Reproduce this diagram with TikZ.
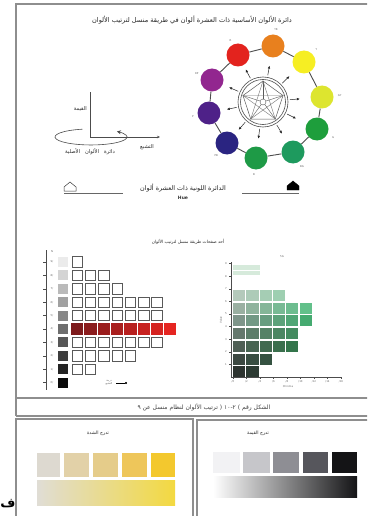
\documentclass[tikz,border=0pt]{standalone}
\usepackage{fontspec}
\newfontfamily\arabicfont[Script=Arabic]{DejaVu Sans}
\newfontfamily\latinfont{DejaVu Sans}
\TeXXeTstate=1
\usetikzlibrary{arrows.meta,calc}
\definecolor{frm}{HTML}{8E8E8E}
\definecolor{mR}{HTML}{E3231E}
\definecolor{mYR}{HTML}{E8801E}
\definecolor{mY}{HTML}{F6EE23}
\definecolor{mGY}{HTML}{DDE52F}
\definecolor{mG}{HTML}{1E9E3C}
\definecolor{mBG}{HTML}{1E9A5E}
\definecolor{mB}{HTML}{1E9A46}
\definecolor{mPB}{HTML}{2A2481}
\definecolor{mP}{HTML}{4E2188}
\definecolor{mRP}{HTML}{92268F}
\definecolor{redL}{HTML}{7D1A1C}
\definecolor{redR}{HTML}{E52521}
\definecolor{gAL}{HTML}{B4C9BB}\definecolor{gAR}{HTML}{8FD3AA}
\definecolor{gBL}{HTML}{9AB0A2}\definecolor{gBR}{HTML}{62C08A}
\definecolor{gCL}{HTML}{7E958A}\definecolor{gCR}{HTML}{45AA70}
\definecolor{gDL}{HTML}{65786D}\definecolor{gDR}{HTML}{3A905B}
\definecolor{gEL}{HTML}{4F5F55}\definecolor{gER}{HTML}{2C7A48}
\definecolor{gFL}{HTML}{3C4841}\definecolor{gFR}{HTML}{2A6040}
\definecolor{gGL}{HTML}{2D3430}\definecolor{gGR}{HTML}{285038}
\definecolor{gTop}{HTML}{D6EADB}
\definecolor{yl1}{HTML}{DDD9D0}\definecolor{yl2}{HTML}{E2D1A8}
\definecolor{yl3}{HTML}{E5CC8A}\definecolor{yl4}{HTML}{EEC65A}
\definecolor{yl5}{HTML}{F3C82E}
\definecolor{ylL}{HTML}{E0DDD5}\definecolor{ylR}{HTML}{F3D940}
\definecolor{gv1}{HTML}{F2F2F4}\definecolor{gv2}{HTML}{C6C6CA}
\definecolor{gv3}{HTML}{8E8E94}\definecolor{gv4}{HTML}{56565C}
\definecolor{gv5}{HTML}{141416}
\begin{document}
\begin{tikzpicture}[x=1pt,y=-1pt,
  frame/.style={draw=frm,line width=1.3pt},
  ar/.style={font=\arabicfont\fontsize{5.2}{6}\selectfont,text=black!85,inner sep=0pt},
  tiny/.style={font=\latinfont\fontsize{2.6}{3}\selectfont,text=black!60,inner sep=0pt},
  colc/.style={circle,minimum size=23pt,inner sep=0pt},
  chain/.style={draw=black!70,line width=0.9pt},
  wsq/.style={draw=black!65,line width=0.7pt,fill=white},
  axisline/.style={draw=black!70,line width=0.6pt},
  outarrow/.style={-{Latex[length=3pt,width=2.6pt]},line width=0.5pt,black!85}]
\useasboundingbox (0,0) rectangle (367,516);
\clip (0,0) rectangle (367,516);
\fill[white] (0,0) rectangle (367,516);
% frames
\draw[frame] (372,4) -- (16,4) -- (16,416);
\draw[frame] (16,398) -- (372,398);
\draw[frame] (16,416) -- (372,416);
\draw[frame] (16,419) rectangle (193,522);
\draw[frame] (197,420) rectangle (374,522);
% title
\node[ar,font=\arabicfont\fontsize{6.6}{7}\selectfont] (title) at (192,20) {\beginR دائرة الألوان الأساسية ذات العشرة ألوان في طريقة منسل لترتيب الألوان\endR};
% colour wheel
\coordinate (w) at (263,102);
\node[colc,fill=mR]  (cR)  at (238,55) {};
\node[colc,fill=mYR] (cYR) at (273,46) {};
\node[colc,fill=mY]  (cY)  at (304,62) {};
\node[colc,fill=mGY] (cGY) at (322,97) {};
\node[colc,fill=mG]  (cG)  at (317,129) {};
\node[colc,fill=mBG] (cBG) at (293,152) {};
\node[colc,fill=mB]  (cB)  at (256,158) {};
\node[colc,fill=mPB] (cPB) at (227,143) {};
\node[colc,fill=mP]  (cP)  at (209,113) {};
\node[colc,fill=mRP] (cRP) at (212,80) {};
\draw[chain] (cR) -- (cYR) -- (cY) -- (cGY) -- (cG) -- (cBG) -- (cB) -- (cPB) -- (cP) -- (cRP) -- (cR);
\foreach \c/\t in {cR/R,cYR/YR,cY/Y,cGY/GY,cG/G,cBG/BG,cB/B,cPB/PB,cP/P,cRP/RP}{
  \node[tiny] (l\c) at ($(w)!1.3!(\c)$) {\t};
  \draw[outarrow] ($(w)!27pt!(\c)$) -- ($(w)!37pt!(\c)$);
}
\draw[black!70,line width=0.6pt] (w) circle[radius=25];
\draw[black!70,line width=0.6pt] (w) circle[radius=22.5];
\coordinate (p1) at (263,81);
\coordinate (p2) at (283,95.5);
\coordinate (p3) at (275.3,119);
\coordinate (p4) at (250.7,119);
\coordinate (p5) at (243,95.5);
\draw[black!65,line width=0.5pt] (p1) -- (p2) -- (p3) -- (p4) -- (p5) -- cycle;
\draw[black!65,line width=0.4pt] (w) circle[radius=3];
\foreach \p in {p1,p2,p3,p4,p5}{\draw[black!65,line width=0.4pt] ($(w)!3pt!(\p)$) -- (\p);}
\draw[black!55,line width=0.4pt] (p1) -- (p3) -- (p5) -- (p2) -- (p4) -- cycle;
% 3D axes
\coordinate (o) at (90,137);
\coordinate (vtop) at (90,92);
\coordinate (hend) at (160,137);
\draw[axisline] (o) -- (vtop);
\draw[axisline,-{Stealth[length=3pt,width=2.5pt]}] (o) -- (hend);
\draw[axisline,-{Stealth[length=4pt,width=4pt]}] (82.3,129.2) arc[start angle=-104,end angle=-404,x radius=36,y radius=8];
\node[ar,anchor=east] (val) at (87,109) {\beginR القيمة\endR};
\node[ar] (chr) at (147,147) {\beginR التشبع\endR};
\node[ar] (hue) at (90,152) {\beginR دائرة\hspace{5pt}الألوان\hspace{5pt}الأصلية\endR};
% hue line
\coordinate (h1) at (70,187);
\coordinate (h2) at (293,186);
\draw[black!80,line width=0.5pt,fill=white] ($(h1)+(-6,4)$) -- ($(h1)+(-6,0)$) -- ($(h1)+(0,-5)$) -- ($(h1)+(6,0)$) -- ($(h1)+(6,4)$) -- cycle;
\draw[black,fill=black] ($(h2)+(-6,4)$) -- ($(h2)+(-6,0)$) -- ($(h2)+(0,-5)$) -- ($(h2)+(6,0)$) -- ($(h2)+(6,4)$) -- cycle;
\coordinate (l1a) at (64,193);\coordinate (l1b) at (123,193);
\coordinate (l2a) at (242,193);\coordinate (l2b) at (299,193);
\draw[black!60,line width=0.5pt] (l1a) -- (l1b);
\draw[black!60,line width=0.5pt] (l2a) -- (l2b);
\node[ar,font=\arabicfont\fontsize{6.4}{7}\selectfont] (hueT) at (183,188) {\beginR الدائرة اللونية ذات العشرة ألوان\endR};
\node[tiny,font=\latinfont\fontsize{4.5}{5}\selectfont\bfseries,text=black!80] (hueL) at (183,198) {Hue};
% middle title
\node[ar,font=\arabicfont\fontsize{4.3}{5}\selectfont] (mtitle) at (188,242) {\beginR أحد صفحات طريقة منسل لترتيب الألوان\endR};
% left chart
\draw[axisline] (46,250) -- (46,390);
\foreach \i in {1,...,10}{
  \pgfmathsetmacro\yc{262+13.4*(\i-1)}
  \pgfmathtruncatemacro\g{8+(\i-1)*9.8}
  \fill[black!\g] (58,\yc-5) rectangle ++(10,10);
  \draw[black!70,line width=0.4pt] (43,\yc) -- (46,\yc);
  \pgfmathtruncatemacro\v{10-\i}
  \node[tiny] at (52,\yc) {\v/};
}
\node[tiny] at (52,252) {N};
\foreach \i/\n in {1/1,2/3,3/4,4/7,5/7,7/7,8/5,9/2}{
  \pgfmathsetmacro\yc{262+13.4*(\i-1)}
  \foreach \j in {1,...,\n}{
    \pgfmathsetmacro\xl{72+13.3*(\j-1)}
    \draw[wsq] (\xl,\yc-5.2) rectangle ++(10.5,10.4);
  }
}
\foreach \j in {1,...,8}{
  \pgfmathtruncatemacro\p{100*(\j-1)/7}
  \pgfmathsetmacro\xl{71+13.3*(\j-1)}
  \fill[redR!\p!redL] (\xl,329-6) rectangle ++(12.3,12);
}
\node[tiny,align=center] (lcap) at (109,383) {\arabicfont\beginR درجة\endR\\\arabicfont\beginR التشبع\endR};
\coordinate (lca) at (116,383);
\coordinate (lcb) at (127,383);
\draw[line width=0.4pt,-{Circle[length=2pt]}] (lca) -- (lcb);
% right chart
\node[tiny] (hlab) at (282,257) {5G};
\draw[axisline] (231,262) -- (231,377) -- (341,377);
\fill[gTop] (233,265) rectangle (260,275);
\draw[white,line width=0.3pt] (233,270) -- (260,270);
\foreach \r/\n/\yt in {A/4/290,B/6/303,C/6/315,D/5/328,E/5/341,F/3/354,G/2/366}{
  \foreach \j in {1,...,\n}{
    \pgfmathtruncatemacro\p{100*(\j-1)/5}
    \pgfmathsetmacro\xl{233+13.3*(\j-1)}
    \fill[g\r R!\p!g\r L] (\xl,\yt) rectangle ++(12.2,11);
  }
}
\foreach \k in {0,...,8}{
  \pgfmathsetmacro\xt{233+13.5*\k}
  \pgfmathtruncatemacro\cv{2*\k}
  \draw[black!70,line width=0.4pt] (\xt,377) -- (\xt,379);
  \node[tiny] at (\xt,382) {/\cv};
}
\foreach \k in {1,...,9}{
  \pgfmathsetmacro\yt{377-12.6*\k}
  \draw[black!70,line width=0.4pt] (229,\yt) -- (231,\yt);
  \node[tiny] at (226,\yt) {\k};
}
\node[tiny,rotate=90] (rv) at (221,320) {Value};
\node[tiny] (rc) at (288,387) {Chroma};
% caption
\node[ar,font=\arabicfont\fontsize{6}{7}\selectfont,text=black!75] (cap) at (204,407) {\beginR الشكل رقم \beginL( ٢-١٠ )\endL{} ترتيب الألوان لنظام منسل عن ٩\endR};
% bottom left panel
\node[ar,font=\arabicfont\fontsize{4.6}{5}\selectfont] (t1) at (98,433) {\beginR تدرج الشدة\endR};
\fill[yl1] (37,453) rectangle (60,477);
\fill[yl2] (64,453) rectangle (89,477);
\fill[yl3] (93,453) rectangle (118,477);
\fill[yl4] (122,453) rectangle (147,477);
\fill[yl5] (151,453) rectangle (175,477);
\shade[left color=ylL,right color=ylR] (37,480) rectangle (175,505);
% bottom right panel
\node[ar,font=\arabicfont\fontsize{4.6}{5}\selectfont] (t2) at (258,433) {\beginR تدرج القيمة\endR};
\fill[gv1] (213,452) rectangle (240,473);
\fill[gv2] (243,452) rectangle (270,473);
\fill[gv3] (273,452) rectangle (299,473);
\fill[gv4] (303,452) rectangle (328,473);
\fill[gv5] (332,452) rectangle (357,473);
\shade[left color=white,right color=gv5] (213,476) rectangle (357,497);
% letter
\node[font=\arabicfont\fontsize{13}{14}\selectfont\bfseries,inner sep=0pt] (fa) at (8,504) {\beginR ف\endR};
\end{tikzpicture}
\end{document}
